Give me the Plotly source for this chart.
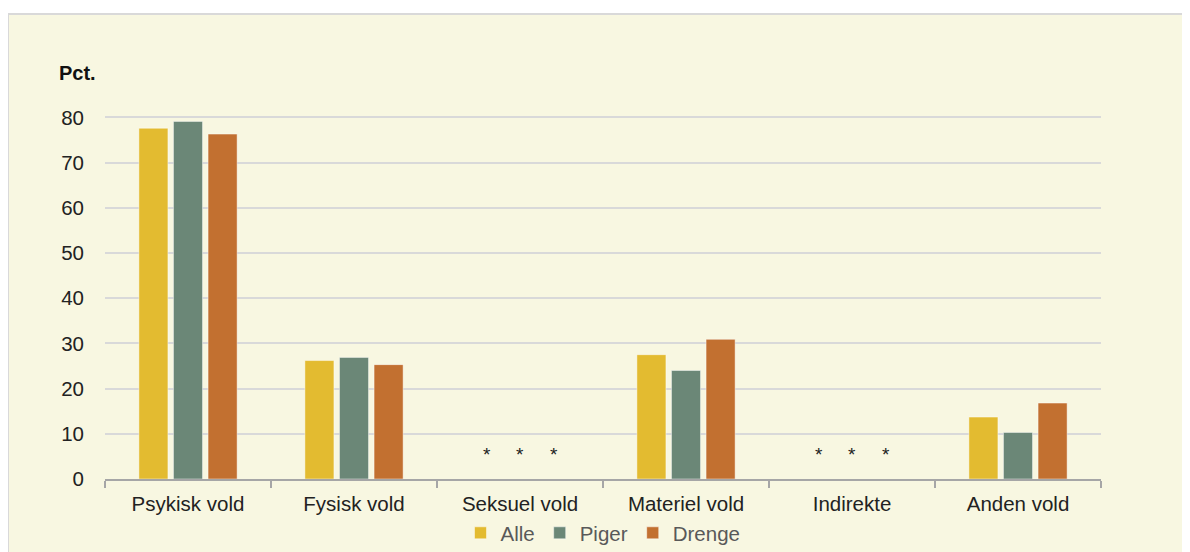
import plotly.graph_objects as go

categories = ["Psykisk vold", "Fysisk vold", "Seksuel vold", "Materiel vold", "Indirekte", "Anden vold"]
alle = [77.6, 26.2, None, 27.5, None, 13.7]
piger = [79.1, 26.9, None, 24.0, None, 10.3]
drenge = [76.3, 25.3, None, 30.9, None, 16.8]
series_names = ["Alle", "Piger", "Drenge"]
colors = ["#E3BB30", "#6B8777", "#C27030"]
suppressed = ["Seksuel vold", "Indirekte"]
y_ticks = [0, 10, 20, 30, 40, 50, 60, 70, 80]

# page has an 8px body margin; figure coords = page coords - 8
OFF = 8
W, H = 1190, 552
L, T = 105 - OFF, 116 - OFF
plot_right, plot_bottom = 1101 - OFF, 479 - OFF
R, B = W - plot_right, H - plot_bottom
pw, ph = plot_right - L, plot_bottom - T

fig = go.Figure()
for name, vals, col in zip(series_names, [alle, piger, drenge], colors):
    fig.add_trace(go.Bar(
        x=categories, y=vals, name=name,
        marker=dict(color=col, line=dict(color="rgba(255,255,255,0.45)", width=1)),
        hoverinfo="x+y+name",
    ))

annotations = [dict(text="<b>Pct.</b>", xref="paper", yref="paper",
                    x=(57 - OFF - L) / pw, y=(plot_bottom - (73 - OFF)) / ph,
                    xanchor="left", yanchor="middle",
                    showarrow=False, font=dict(size=20, color="#111111"))]
slot = 33.5
for cat in suppressed:
    for i in range(3):
        annotations.append(dict(text="*", x=cat, y=0, xref="x", yref="y",
                                xshift=(i - 1) * slot, yshift=12, yanchor="bottom",
                                showarrow=False, font=dict(size=19, color="#222222")))

fig.update_layout(
    width=W, height=H,
    margin=dict(l=L, r=R, t=T, b=B, pad=0, autoexpand=False),
    paper_bgcolor="white",
    plot_bgcolor="rgba(0,0,0,0)",
    barmode="group", bargap=0.375, bargroupgap=0.16,
    font=dict(family="Liberation Sans, Arial, sans-serif", size=20.5, color="#222222"),
    showlegend=True,
    legend=dict(orientation="h", x=0.5, xanchor="center",
                yref="container", y=1 - (533 - OFF) / H, yanchor="middle",
                font=dict(size=20.5, color="#595959"), bgcolor="rgba(0,0,0,0)",
                itemwidth=30, tracegroupgap=0, traceorder="normal"),
    annotations=annotations,
    shapes=[dict(type="rect", xref="paper", yref="paper", layer="below",
                 x0=(8 - OFF - L) / pw, x1=(W + 10 - L) / pw,
                 y0=-(B + 10) / ph, y1=(plot_bottom - (14 - OFF)) / ph,
                 fillcolor="#F8F7E1", line=dict(color="#D9D9D9", width=2))],
    xaxis=dict(type="category", showgrid=False, showline=True, linecolor="#A6A6A6", linewidth=2,
               ticks="outside", tickson="boundaries", ticklen=7, tickcolor="#A6A6A6", tickwidth=1.5,
               tickfont=dict(size=20.5, color="#222222"), ticklabelstandoff=5, automargin=False),
    yaxis=dict(range=[0, 80.3], tickvals=y_ticks, showgrid=True, gridcolor="#D9D9D9", gridwidth=2,
               zeroline=False, showline=False, ticks="", ticklabelstandoff=20, automargin=False,
               tickfont=dict(size=20.5, color="#222222")),
)

fig.write_html("out.html")
